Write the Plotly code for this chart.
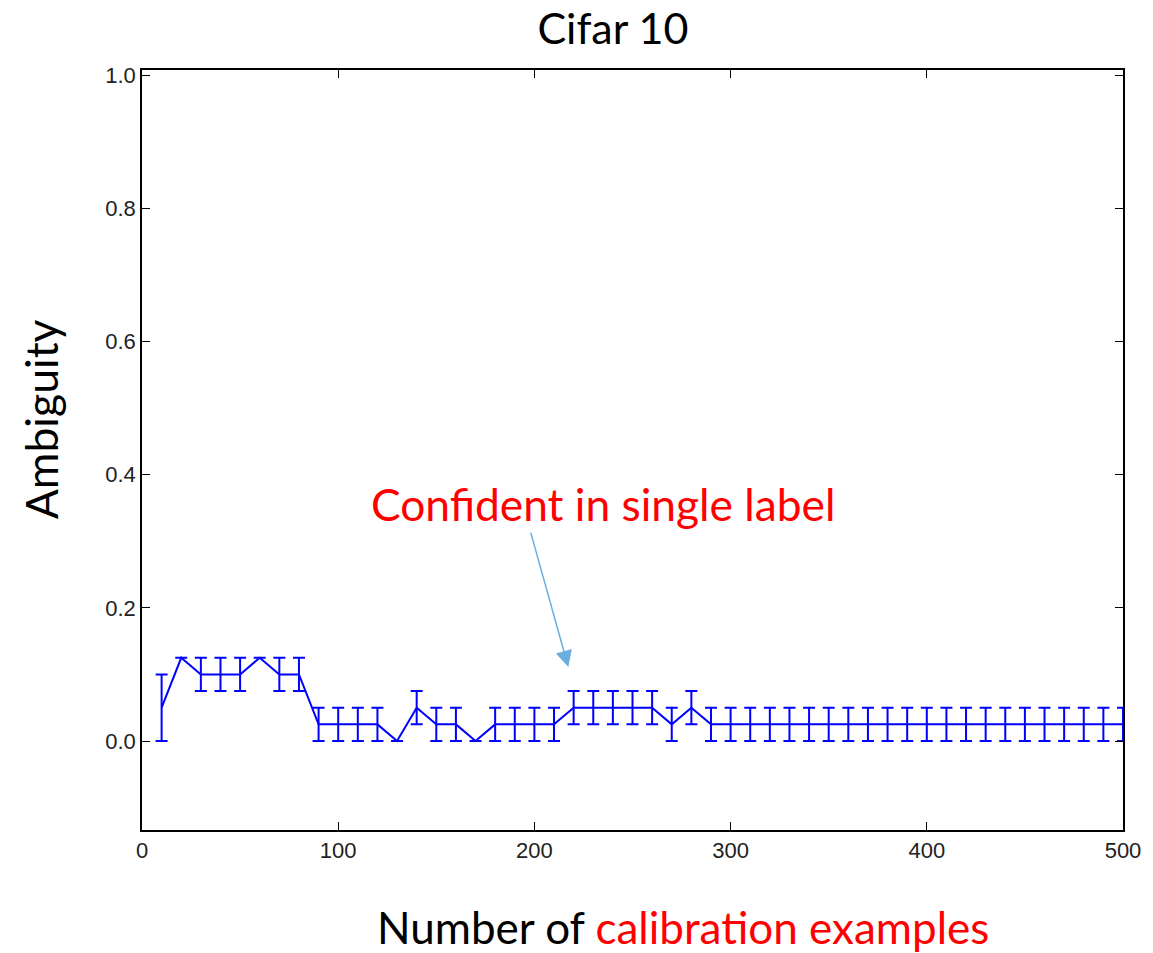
import plotly.graph_objects as go

calib_examples = list(range(10, 510, 10))
ambiguity = [0.05, 0.125, 0.1, 0.1, 0.1, 0.125, 0.1, 0.1, 0.025, 0.025,
             0.025, 0.025, 0.0, 0.05, 0.025, 0.025, 0.0, 0.025, 0.025, 0.025,
             0.025, 0.05, 0.05, 0.05, 0.05, 0.05, 0.025, 0.05] + [0.025] * 22
ambiguity_err = [0.05, 0.0, 0.025, 0.025, 0.025, 0.0, 0.025, 0.025, 0.025, 0.025,
                 0.025, 0.025, 0.0, 0.025, 0.025, 0.025, 0.0, 0.025, 0.025, 0.025,
                 0.025, 0.025, 0.025, 0.025, 0.025, 0.025, 0.025, 0.025] + [0.025] * 22
x_ticks = [0, 100, 200, 300, 400, 500]
y_ticks = [0.0, 0.2, 0.4, 0.6, 0.8, 1.0]

TEXT_FONT = "Lato"
TICK_FONT = "Liberation Sans"

fig = go.Figure()
fig.add_trace(go.Scatter(
    x=calib_examples, y=ambiguity, mode="lines",
    line=dict(color="#0000ff", width=2),
    error_y=dict(type="data", array=ambiguity_err, visible=True,
                 color="#0000ff", thickness=2, width=6),
    showlegend=False,
))

fig.update_layout(
    width=1153, height=953,
    margin=dict(l=142, r=26, t=70, b=123),
    paper_bgcolor="white", plot_bgcolor="white",
    title=dict(text="Cifar 10", x=0.48, xref="paper", xanchor="center",
               y=0.97, yref="container", yanchor="middle",
               font=dict(family=TEXT_FONT, size=43, color="black")),
    xaxis=dict(range=[0, 500], tickvals=x_ticks, ticktext=[str(v) for v in x_ticks],
               ticks="inside", ticklen=8, tickcolor="black", tickwidth=1,
               showline=True, linecolor="black", linewidth=1.5, mirror="ticks",
               showgrid=False, zeroline=False,
               tickfont=dict(family=TICK_FONT, size=22, color="#222")),
    yaxis=dict(range=[-0.1336, 1.0075], tickvals=y_ticks,
               ticktext=[f"{v:.1f}" for v in y_ticks],
               ticks="inside", ticklen=8, tickcolor="black", tickwidth=1,
               showline=True, linecolor="black", linewidth=1.5, mirror="ticks",
               showgrid=False, zeroline=False,
               tickfont=dict(family=TICK_FONT, size=22, color="#222")),
    annotations=[
        dict(text="Number of <span style='color:#ff0000'>calibration examples</span>",
             xref="paper", yref="paper", x=0.551, y=-0.127,
             xanchor="center", yanchor="middle", showarrow=False,
             font=dict(family=TEXT_FONT, size=44, color="black")),
        dict(text="Ambiguity", xref="paper", yref="paper", x=-0.1036, y=0.541,
             xanchor="center", yanchor="middle", textangle=-90, showarrow=False,
             font=dict(family=TEXT_FONT, size=44.5, color="black")),
        dict(text="Confident in single label", xref="x", yref="y", x=235, y=0.357,
             xanchor="center", yanchor="middle", showarrow=False,
             font=dict(family=TEXT_FONT, size=44.3, color="#ff0000")),
        dict(text="", xref="x", yref="y", x=217.3, y=0.111,
             showarrow=True, ax=-38, ay=-136, axref="pixel", ayref="pixel",
             arrowhead=2, arrowsize=2.2, arrowwidth=1.5, arrowcolor="#6aaee0",
             standoff=0),
    ],
)

fig.write_html("out.html")
